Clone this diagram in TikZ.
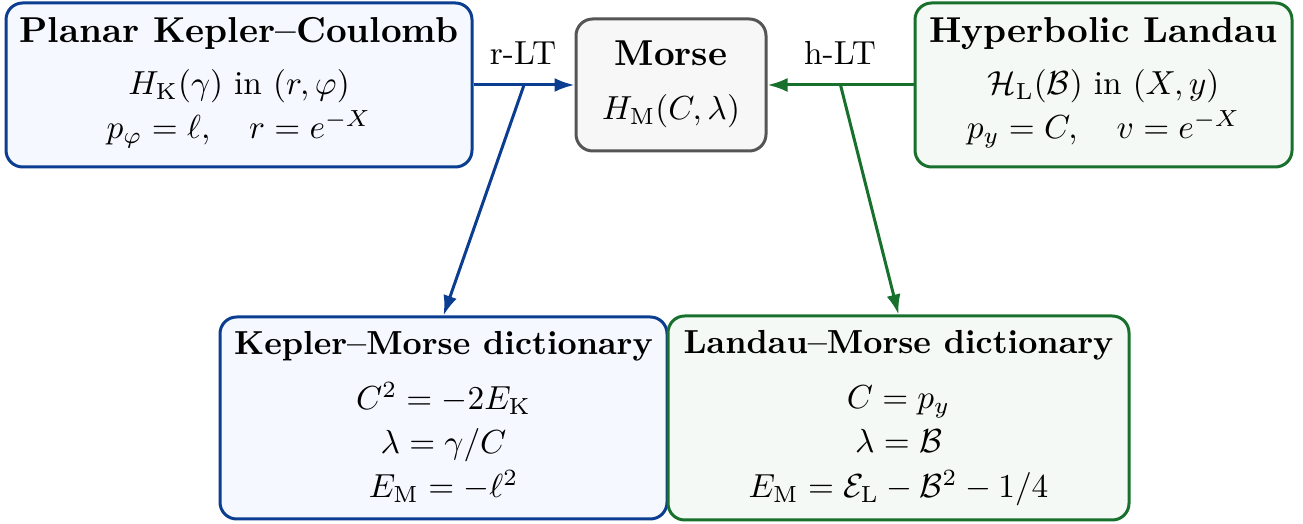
\documentclass[tikz,border=0pt]{standalone}
\usepackage{amsmath}
\usetikzlibrary{arrows.meta}
\definecolor{kblue}{HTML}{0B3D91}
\definecolor{kfill}{HTML}{F5F8FE}
\definecolor{lgreen}{HTML}{17702B}
\definecolor{lfill}{HTML}{F4F9F5}
\definecolor{mgray}{HTML}{555555}
\definecolor{mfill}{HTML}{F7F7F7}
\begin{document}
\begin{tikzpicture}[x=0.3pt,y=-0.3pt,
  box/.style={draw, rounded corners=5pt, line width=0.9pt, inner sep=0pt},
  kbox/.style={box, draw=kblue, fill=kfill},
  lbox/.style={box, draw=lgreen, fill=lfill},
  mbox/.style={box, draw=mgray, fill=mfill},
  txt/.style={anchor=base, inner sep=0pt},
  head/.style={txt, font=\bfseries},
  bighead/.style={txt, font=\fontsize{10.8pt}{13pt}\selectfont\bfseries},
  conn/.style={line width=0.9pt, -{Latex[length=6pt,width=4.2pt]}},
  lab/.style={txt}
]
\useasboundingbox (0,0) rectangle (1303,524);

% boxes
\node[kbox, minimum width=139.8pt, minimum height=49.2pt] (pkc) at (239,85) {};
\node[mbox, minimum width=57pt, minimum height=39.6pt] (morse) at (671,85) {};
\node[lbox, minimum width=113.1pt, minimum height=49.2pt] (hl) at (1103.5,85) {};
\node[kbox, minimum width=134.1pt, minimum height=60.6pt] (kmd) at (443.5,418) {};
\node[lbox, minimum width=138.3pt, minimum height=61.2pt] (lmd) at (898.5,418) {};

% texts
\node[bighead] (pkc1) at (239,43) {Planar Kepler--Coulomb};
\node[txt] (pkc2) at (239,95) {$H_{\mathrm{K}}(\gamma)$ in $(r,\varphi)$};
\node[txt] (pkc3) at (239,139) {$p_\varphi=\ell,\quad r=e^{-X}$};

\node[bighead] (m1) at (671,66) {Morse};
\node[txt] (m2) at (671,120) {$H_{\mathrm{M}}(C,\lambda)$};

\node[bighead] (hl1) at (1103.5,43) {Hyperbolic Landau};
\node[txt] (hl2) at (1103.5,95) {$\mathcal{H}_{\mathrm{L}}(\mathcal{B})$ in $(X,y)$};
\node[txt] (hl3) at (1103.5,139) {$p_y=C,\quad v=e^{-X}$};

\node[head] (k1) at (443.5,355) {Kepler--Morse dictionary};
\node[txt] (k2) at (443.5,410) {$C^2=-2E_{\mathrm{K}}$};
\node[txt] (k3) at (443.5,454) {$\lambda=\gamma/C$};
\node[txt] (k4) at (443.5,498) {$E_{\mathrm{M}}=-\ell^2$};

\node[head] (l1) at (898.5,354) {Landau--Morse dictionary};
\node[txt] (l2) at (898.5,409) {$C=p_y$};
\node[txt] (l3) at (898.5,453) {$\lambda=\mathcal{B}$};
\node[txt] (l4) at (898.5,498) {$E_{\mathrm{M}}=\mathcal{E}_{\mathrm{L}}-\mathcal{B}^2-1/4$};

% connectors
\draw[conn, kblue] (pkc.east) -- coordinate[pos=0.5] (rmid) (morse.west);
\draw[conn, lgreen] (hl.west) -- coordinate[pos=0.5] (hmid) (morse.east);
\node[lab] (rlt) at (523,65) {r-LT};
\node[lab] (hlt) at (840,65) {h-LT};
\draw[conn, kblue] (rmid) -- (kmd.north);
\draw[conn, lgreen] (hmid) -- (lmd.north);
\end{tikzpicture}
\end{document}
